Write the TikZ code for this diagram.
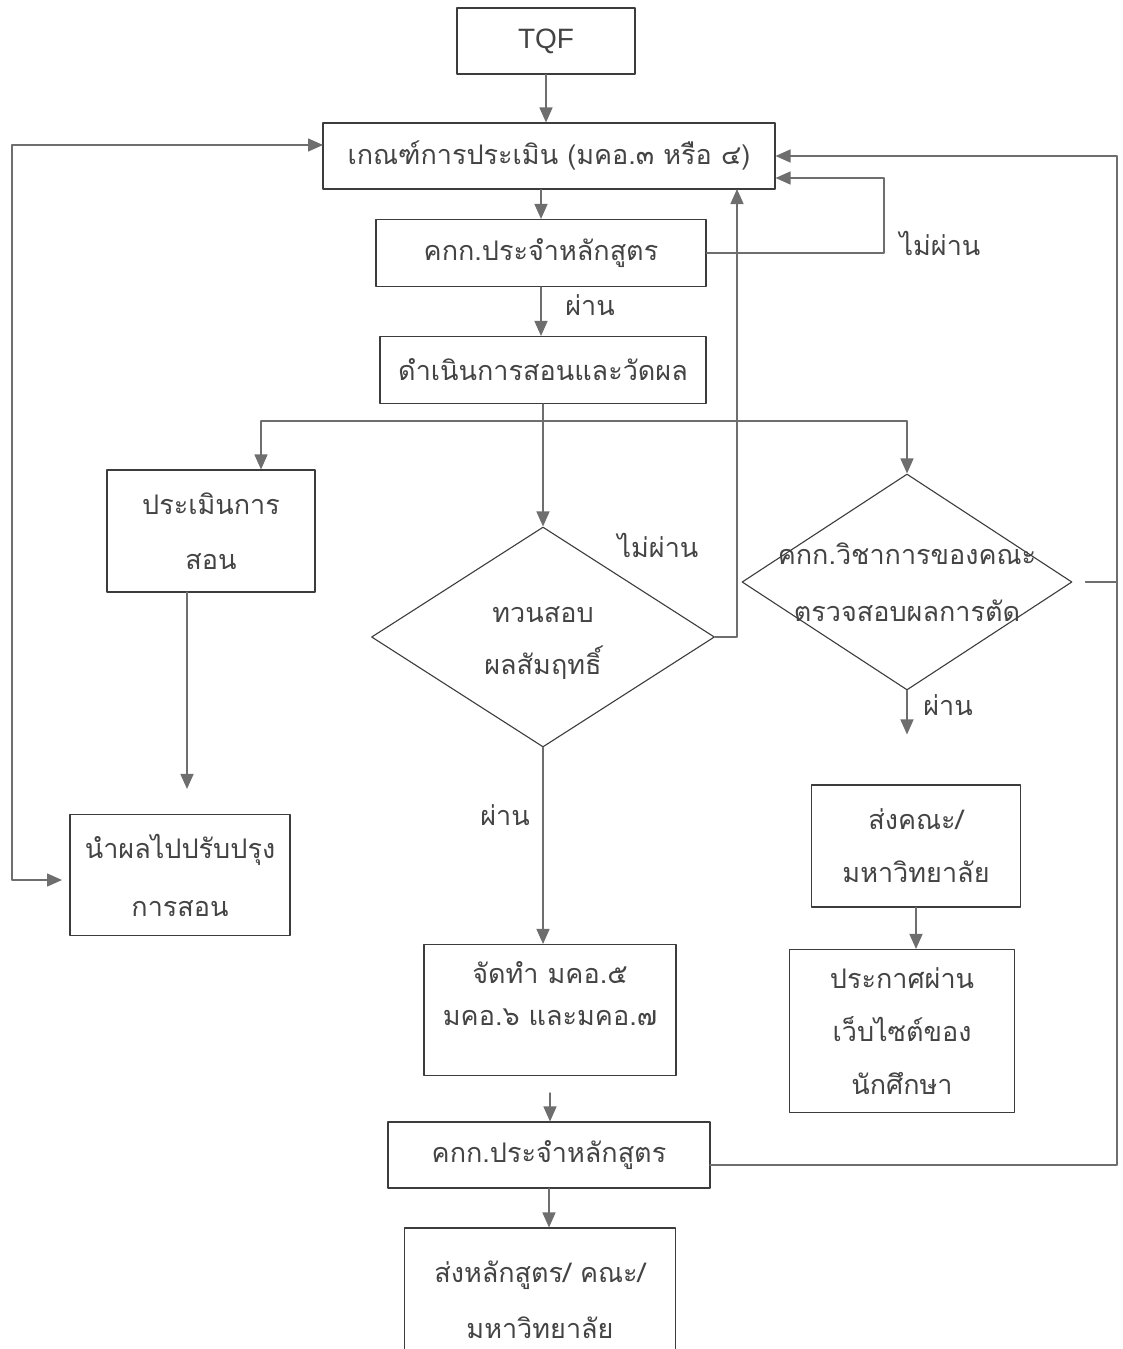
\documentclass[tikz,border=0pt]{standalone}
\usepackage{fontspec}
\setmainfont{Liberation Sans}
\newfontfamily\thaifont[Script=Thai]{Loma}
\usepackage{tikz}
\usetikzlibrary{shapes,arrows,arrows.meta}
\definecolor{linegray}{HTML}{6E6E6E}
\definecolor{boxline}{HTML}{3C3C3C}
\definecolor{txtgray}{HTML}{444444}
\tikzset{>={Triangle[length=15pt,width=13pt]}}
\tikzset{
	box/.style={draw=boxline, line width=1.1pt, inner sep=0pt, text=txtgray, align=center,
		font=\thaifont\fontsize{27}{53}\selectfont},
	decision/.style={diamond, draw=boxline, line width=1.1pt, inner sep=0pt},
	lbl/.style={text=txtgray, align=center, font=\thaifont\fontsize{27}{52}\selectfont},
	conn/.style={draw=linegray, line width=1.5pt},
	flow/.style={conn, ->}
}
\begin{document}
\begin{tikzpicture}[line cap=round,line join=round,x=1pt,y=-1pt]
	\useasboundingbox[fill=white] (0,0) rectangle (1122,1349);
	% boxes
	\node[box, minimum width=178, minimum height=66, font=\fontsize{28}{30}\selectfont] (tqf) at (546,41) {TQF};
	\node[box, minimum width=452, minimum height=66] (crit) at (549,156) {เกณฑ์การประเมิน (มคอ.๓ หรือ ๔)};
	\node[box, minimum width=330, minimum height=67] (comm1) at (541,253) {คกก.ประจำหลักสูตร};
	\node[box, minimum width=326, minimum height=67] (teach) at (543,370) {ดำเนินการสอนและวัดผล};
	\node[box, minimum width=208, minimum height=122] (evalt) at (211,531) {ประเมินการ\\[2pt]สอน};
	\node[box, minimum width=220, minimum height=121] (improve) at (180,875) {นำผลไปปรับปรุง\\[5pt]การสอน};
	\node[decision, minimum width=343, minimum height=220,
		label={[lbl, yshift=-6pt]center:{ทวนสอบ\\ผลสัมฤทธิ์}}] (d1) at (543,637) {};
	\node[decision, minimum width=330, minimum height=216,
		label={[lbl, font=\thaifont\fontsize{27}{57}\selectfont]center:{คกก.วิชาการของคณะ\\ตรวจสอบผลการตัด}}] (d2) at (907,582) {};
	\node[box, minimum width=252, minimum height=131] (make57) at (550,1010) {จัดทำ มคอ.๕\\[-11pt]มคอ.๖ และมคอ.๗\\[-20pt]~};
	\node[box, minimum width=209, minimum height=122] (send1) at (916,846) {ส่งคณะ/\\มหาวิทยาลัย};
	\node[box, minimum width=225, minimum height=163] (announce) at (902,1031) {ประกาศผ่าน\\เว็บไซต์ของ\\นักศึกษา};
	\node[box, minimum width=322, minimum height=66] (comm2) at (549,1155) {คกก.ประจำหลักสูตร};
	\node[box, minimum width=271, minimum height=144] (sendall) at (540,1300) {ส่งหลักสูตร/ คณะ/\\[3pt]มหาวิทยาลัย};
	% labels
	\node[lbl] (pass1) at (590,305) {ผ่าน};
	\node[lbl] (fail1) at (940,243) {ไม่ผ่าน};
	\node[lbl] (fail2) at (658,545) {ไม่ผ่าน};
	\node[lbl] (pass2) at (505,815) {ผ่าน};
	\node[lbl] (pass3) at (948,705) {ผ่าน};
	% helper points
	\coordinate (loopA) at (884,178);
	\coordinate (split) at (543,421);
	\coordinate (brL) at (261,421);
	\coordinate (brR) at (907,421);
	\coordinate (critW) at (323,145);
	\coordinate (railL) at (12,145);
	\coordinate (impW) at (70,880);
	\coordinate (d1up) at (737,189);
	\coordinate (c2E) at (710,1165);
	\coordinate (railR) at (1117,156);
	\coordinate (evalS) at (187,592);
	% connectors
	\draw[flow] (tqf.south) -- (tqf.south |- crit.north);
	\draw[flow] (crit.south -| comm1.north) -- (comm1.north);
	\draw[flow] (comm1.south) -- (comm1.south |- teach.north);
	\draw[flow] (comm1.east) -| (loopA) -- (loopA -| crit.east);
	\draw[conn] (teach.south) -- (split);
	\draw[conn] (brL) -- (brR);
	\draw[flow] (brL) -- (brL |- evalt.north);
	\draw[flow] (split) -- (d1.north);
	\draw[flow] (brR) -- (d2.north);
	\draw[flow, shorten >=25pt] (evalS) -- (evalS |- improve.north);
	\draw[conn, <->, shorten >=8pt] (critW) -- (railL) |- (impW);
	\draw[flow] (d1.east) -| (d1up);
	\draw[flow] (d1.south) -- (d1.south |- make57.north);
	\draw[flow, shorten <=17pt] (make57.south) -- (make57.south |- comm2.north);
	\draw[flow] (c2E) -| (railR) -- (crit.east);
	\draw[conn, shorten <=13pt] (d2.east) -- (d2.east -| railR);
	\draw[flow, shorten >=50pt] (d2.south) -- (d2.south |- send1.north);
	\draw[flow] (send1.south) -- (send1.south |- announce.north);
	\draw[flow] (comm2.south) -- (comm2.south |- sendall.north);
\end{tikzpicture}
\end{document}
